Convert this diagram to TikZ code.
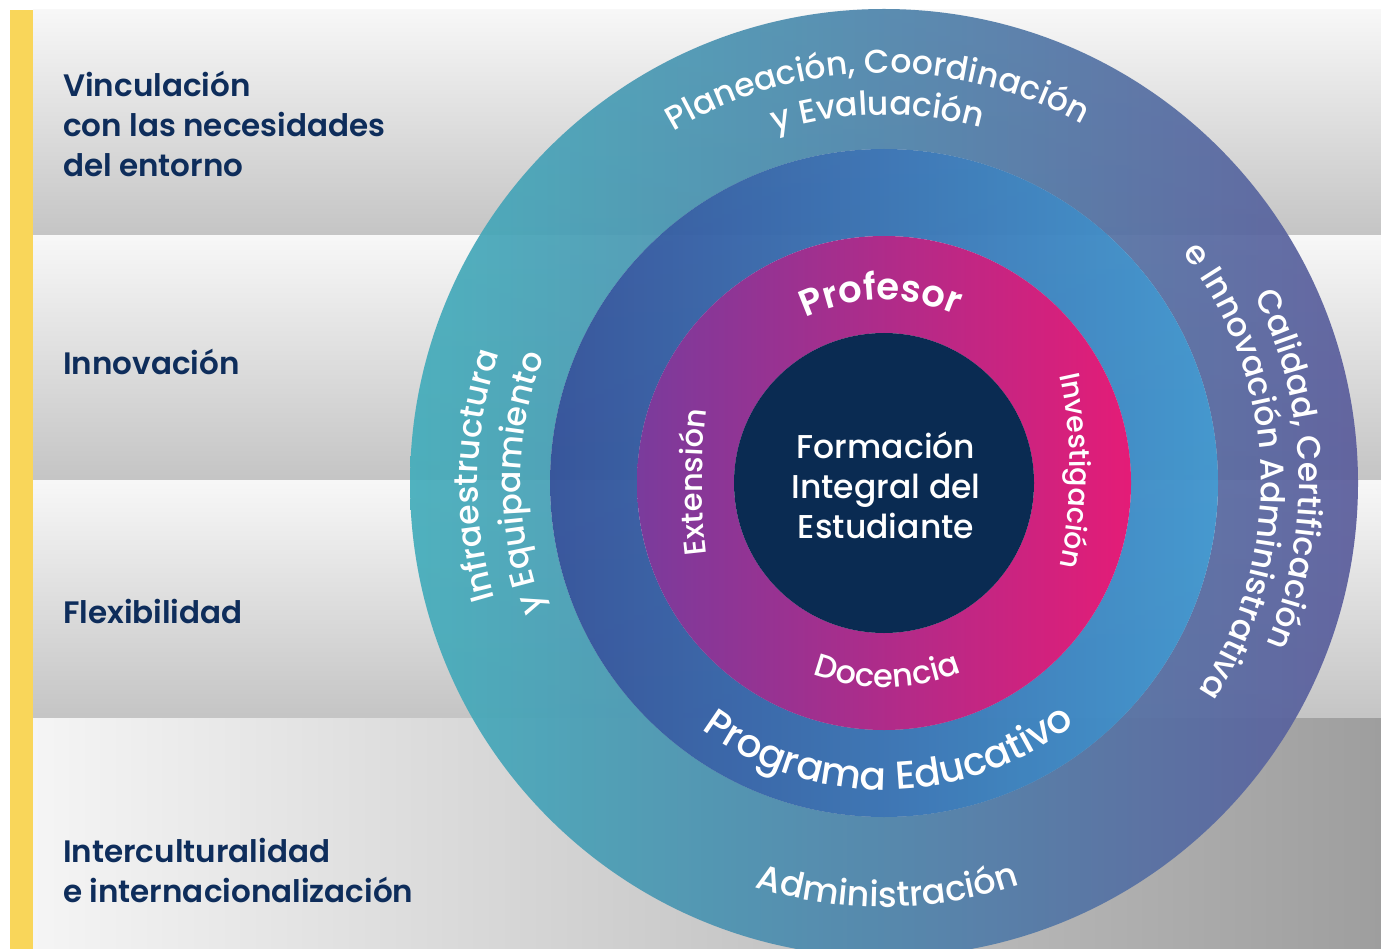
\documentclass[tikz,border=0pt]{standalone}
\usepackage{fontspec}
\setmainfont{Poppins}[UprightFont=* Medium, BoldFont=* SemiBold]
\usetikzlibrary{decorations.text}
\definecolor{navytxt}{HTML}{0E2D5B}
\definecolor{yellowbarc}{HTML}{F9D65A}
\definecolor{tealL}{HTML}{44ADBB}
\definecolor{purpR}{HTML}{5B5D9C}
\definecolor{blueL}{HTML}{33529A}
\definecolor{blueR}{HTML}{4096CE}
\definecolor{magL}{HTML}{7A3B9C}
\definecolor{magR}{HTML}{E41C77}
\definecolor{core}{HTML}{0A2B52}
\newcommand\fouter{\fontsize{33}{40}\selectfont}
\newcommand\fadmin{\fontsize{35}{40}\selectfont}
\newcommand\fprog{\fontsize{39}{44}\selectfont}
\newcommand\fprof{\fontsize{37}{44}\selectfont\bfseries}
\newcommand\finner{\fontsize{32}{40}\selectfont}
\newcommand\fside{\fontsize{28.5}{40}\selectfont}
\newcommand\fext{\fontsize{30.5}{40}\selectfont}
\tikzset{
  arctext/.style={decorate, decoration={text along path, text align=center, text color=white, text={#1}}},
  band/.style={top color=white!97!black, bottom color=black!23},
  lefttext/.style={anchor=west, align=left, text=navytxt, font=\fontsize{31}{40}\selectfont\bfseries, inner sep=0pt},
}
\begin{document}
\begin{tikzpicture}[x=1pt,y=1pt]
\useasboundingbox (0,0) rectangle (1381,-949);
\fill[white] (0,0) rectangle (1381,-949);
% bands
\shade[band] (33,-10) rectangle (1381,-236);
\shade[band] (33,-236) rectangle (1381,-480);
\shade[band] (33,-480) rectangle (1381,-718);
\shade[left color=white!96!black, right color=black!38] (33,-718) rectangle (1381,-949);
% yellow bar
\fill[yellowbarc] (10,-10) rectangle (33,-949);
% left labels
\node[lefttext] (vinc) at (63,-124) {Vinculación\\con las necesidades\\del entorno};
\node[lefttext] (inno) at (63,-362) {Innovación};
\node[lefttext] (flex) at (63,-611) {Flexibilidad};
\node[lefttext] (inter) at (63,-870) {Interculturalidad\\e internacionalización};
% rings
\coordinate (C) at (884,-483);
\shade[even odd rule, left color=tealL, right color=purpR, opacity=0.93] (C) circle[radius=474] (C) circle[radius=334];
\shade[even odd rule, left color=blueL, right color=blueR, opacity=0.96] (C) circle[radius=334] (C) circle[radius=247];
\shade[even odd rule, left color=magL, right color=magR] (C) circle[radius=247] (C) circle[radius=150];
\fill[core] (C) circle[radius=150];
% outer ring texts
\path[shift={(884,-483)}, arctext={|\fouter|Planeación, Coordinación}] (151:410) arc[start angle=151, end angle=31, radius=410];
\path[shift={(884,-483)}, arctext={|\fouter|y Evaluación}] (151:368) arc[start angle=151, end angle=31, radius=368];
\path[shift={(884,-483)}, arctext={|\fouter|Calidad, Certificación}] (62:415) arc[start angle=62, end angle=-58, radius=415];
\path[shift={(884,-483)}, arctext={|\fouter|e Innovación Administrativa}] (62:377) arc[start angle=62, end angle=-58, radius=377];
\path[shift={(884,-483)}, arctext={|\fouter|Infraestructura}] (239:406) arc[start angle=239, end angle=119, radius=406];
\path[shift={(884,-483)}, arctext={|\fouter|y Equipamiento}] (240:363) arc[start angle=240, end angle=120, radius=363];
\path[shift={(884,-483)}, arctext={|\fadmin|Administración}] (210:424) arc[start angle=210, end angle=331, radius=424];
% second ring
\path[shift={(884,-483)}, arctext={|\fprog|Programa Educativo}] (211:307) arc[start angle=211, end angle=331, radius=307];
% magenta ring
\path[shift={(884,-483)}, arctext={|\fprof|Profesor}] (151:183) arc[start angle=151, end angle=31, radius=183];
\path[shift={(884,-483)}, arctext={|\finner|Docencia}] (211:204) arc[start angle=211, end angle=331, radius=204];
\path[shift={(1302,-482)}, arctext={|\fext|Extensión}] (200:600) arc[start angle=200, end angle=160, radius=600];
\path[shift={(630,-471)}, arctext={|\fside|Investigación}] (22:440) arc[start angle=22, end angle=-22, radius=440];
% core text
\node[text=white, align=center, font=\fontsize{33}{40}\selectfont, inner sep=0pt] (fie) at (886,-485) {Formación\\Integral del\\Estudiante};
\end{tikzpicture}
\end{document}
